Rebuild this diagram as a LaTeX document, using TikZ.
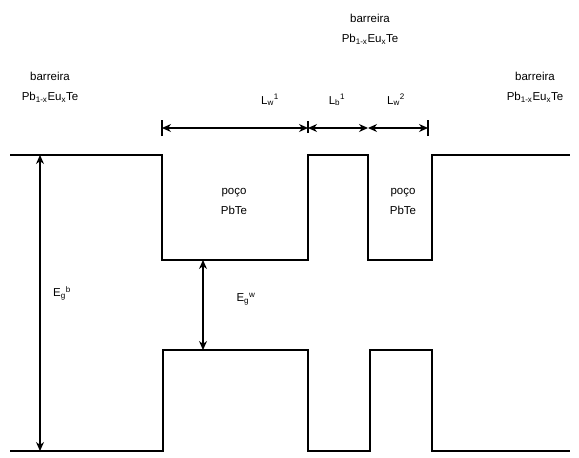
\documentclass[tikz,border=0pt]{standalone}
\usepackage{fontspec}
\setmainfont{Liberation Sans}
\usetikzlibrary{arrows.meta}
\begin{document}
\begin{tikzpicture}[x=1pt,y=-1pt,
  band/.style={line width=2.8pt,line join=miter},
  dim/.style={line width=1.3pt,{Stealth[length=9pt,width=8pt]}-{Stealth[length=9pt,width=8pt]}},
  tick/.style={line width=1.3pt},
  lab/.style={font=\fontsize{11.5}{20}\selectfont,align=center,inner sep=1pt}]
\useasboundingbox (0,0) rectangle (579,458);
% conduction band
\draw[band] (10,155) -- (162,155) -- (162,260) -- (308,260) -- (308,155) -- (368,155) -- (368,260) -- (432,260) -- (432,155) -- (570,155);
% valence band
\draw[band] (10,451) -- (163,451) -- (163,350) -- (308,350) -- (308,451) -- (370,451) -- (370,350) -- (432,350) -- (432,451) -- (570,451);
% coordinates
\coordinate (gbT) at (40,155);
\coordinate (gbB) at (40,451);
\coordinate (gwT) at (203,260);
\coordinate (gwB) at (203,350);
\coordinate (d0) at (162,128);
\coordinate (d1) at (308,128);
\coordinate (d2) at (368,128);
\coordinate (d3) at (428,128);
% gap arrows
\draw[dim] (gbT) -- (gbB);
\draw[dim] (gwT) -- (gwB);
% dimension arrows
\draw[dim] (d0) -- (d1);
\draw[dim] (d1) -- (d2);
\draw[dim] (d2) -- (d3);
\draw[tick] ([yshift=-8pt]d0) -- ([yshift=8pt]d0);
\draw[tick] ([yshift=-5pt]d1) -- ([yshift=7pt]d1);
\draw[tick] ([yshift=-8pt]d3) -- ([yshift=8pt]d3);
% labels
\node[lab] (bl) at (50,87) {barreira\\Pb\textsubscript{1-x}Eu\textsubscript{x}Te};
\node[lab] (bm) at (370,29) {barreira\\Pb\textsubscript{1-x}Eu\textsubscript{x}Te};
\node[lab] (br) at (535,87) {barreira\\Pb\textsubscript{1-x}Eu\textsubscript{x}Te};
\node[lab] (w1) at (234,201) {poço\\PbTe};
\node[lab] (w2) at (403,201) {poço\\PbTe};
\node[lab] (lw1) at (270,100) {L\textsubscript{w}\textsuperscript{1}};
\node[lab] (lb1) at (337,100) {L\textsubscript{b}\textsuperscript{1}};
\node[lab] (lw2) at (396,100) {L\textsubscript{w}\textsuperscript{2}};
\node[lab] (egb) at (62,293) {E\textsubscript{g}\textsuperscript{b}};
\node[lab] (egw) at (246,299) {E\textsubscript{g}\textsuperscript{w}};
\end{tikzpicture}
\end{document}
